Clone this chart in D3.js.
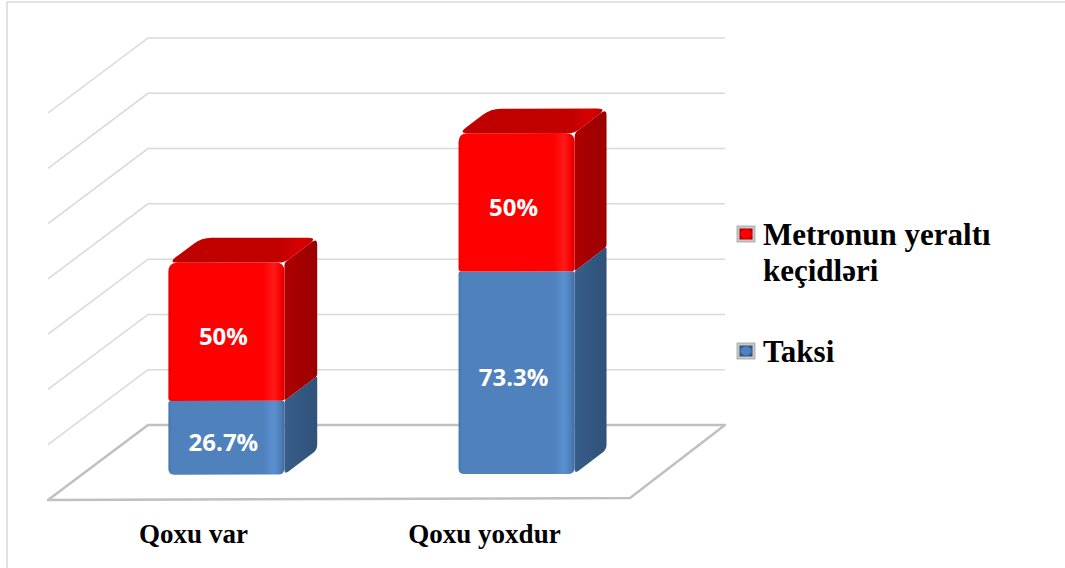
<!DOCTYPE html>
<html>
<meta charset="utf-8">
<title>Qoxu</title>
<style>
html,body{
  margin:0;
  background:#fff;
}
svg {
  display:block;
  background-color:#fff;
}
.cat, .leg {
  font-family:"Liberation Serif","Times New Roman",serif;
  font-weight:bold;
  fill:#000;
}
.lbl {
  font-family:"Open Sans",sans-serif;
  font-weight:bold;
  font-size:24px;
  fill:#fff;
}
</style>
<script src="https://cdn.jsdelivr.net/npm/d3@7"></script>
<body>
<script>

var categories = ["Qoxu var", "Qoxu yoxdur"];
var taksi = [26.7, 73.3];
var metro = [50, 50];
var seriesKeys = ["taksi", "metro"];
var seriesNames = {taksi: "Taksi", metro: "Metronun yeraltı keçidləri"};
var yTicks = [0, 20, 40, 60, 80, 100, 120, 140];

var width = 1065, height = 568;

var rows = categories.map(function(c, i){
  return {cat: c, taksi: taksi[i], metro: metro[i]};
});
var stacked = d3.stack().keys(seriesKeys)(rows);

var svg = d3.select("body").append("svg")
    .attr("width", width)
    .attr("height", height);

var defs = svg.append("defs");

function hgrad(id, stops){
  var g = defs.append("linearGradient").attr("id", id)
    .attr("x1", "0").attr("x2", "1").attr("y1", "0").attr("y2", "0");
  stops.forEach(function(s){
    g.append("stop").attr("offset", s[0]).attr("stop-color", s[1]);
  });
}
hgrad("frontRed", [["0%","#e80000"],["3%","#ff0000"],["82%","#ff0000"],["91%","#ff1a1a"],["97%","#f50000"],["100%","#d80000"]]);
hgrad("frontBlue", [["0%","#4675ab"],["3%","#4f81bd"],["82%","#4f81bd"],["91%","#5a90d1"],["97%","#4c7db8"],["100%","#41699a"]]);
hgrad("topRed", [["0%","#c00000"],["78%","#c20000"],["90%","#d80000"],["100%","#c40000"]]);
hgrad("sideRed", [["0%","#ad0000"],["100%","#9c0000"]]);
hgrad("sideBlue", [["0%","#375d89"],["100%","#30527a"]]);

var faceFill = {
  taksi: {front: "url(#frontBlue)", side: "url(#sideBlue)", top: "#3d6594"},
  metro: {front: "url(#frontRed)", side: "url(#sideRed)", top: "url(#topRed)"}
};

// outer chart border
svg.append("rect")
  .attr("x", 7).attr("y", 2)
  .attr("width", 1070).attr("height", 600)
  .attr("fill", "none")
  .attr("stroke", "#d9d9d9")
  .attr("stroke-width", 1.5);

var x = d3.scaleBand().domain(categories).range([148, 725]).padding(0);
var y = d3.scaleLinear().domain([0, 140]).range([425, 38]);

// oblique depth, back wall -> front edge of the floor
function ddx(xb){ return -100 + 5 * (xb - 148) / 577; }
function ddy(xb){ return 75 - 2 * (xb - 148) / 577; }
function P(xb, v, d){
  return [xb + d * ddx(xb), y(v) + d * ddy(xb)];
}

function roundPoly(pts, r){
  var n = pts.length, s = "";
  for (var i = 0; i < n; i++){
    var p0 = pts[(i - 1 + n) % n], p1 = pts[i], p2 = pts[(i + 1) % n];
    var rr = Array.isArray(r) ? r[i] : r;
    var l0 = Math.hypot(p0[0]-p1[0], p0[1]-p1[1]);
    var l2 = Math.hypot(p2[0]-p1[0], p2[1]-p1[1]);
    var k0 = Math.min(rr, l0/2) / l0, k2 = Math.min(rr, l2/2) / l2;
    var a = [p1[0] + (p0[0]-p1[0])*k0, p1[1] + (p0[1]-p1[1])*k0];
    var b = [p1[0] + (p2[0]-p1[0])*k2, p1[1] + (p2[1]-p1[1])*k2];
    s += (i == 0 ? "M" : "L") + a[0] + "," + a[1] +
         "Q" + p1[0] + "," + p1[1] + " " + b[0] + "," + b[1];
  }
  return s + "Z";
}

var x0 = x.range()[0], x1 = x.range()[1];

// gridlines on the back and side walls
svg.append("g").selectAll("path")
  .data(yTicks.filter(function(t){ return t > 0; }))
  .enter().append("path")
    .attr("d", function(t){
      return "M" + P(x0, t, 1) + "L" + P(x0, t, 0) + "L" + P(x1, t, 0);
    })
    .attr("fill", "none")
    .attr("stroke", "#d9d9d9")
    .attr("stroke-width", 1.5);

// floor
svg.append("path")
  .attr("d", "M" + P(x0, 0, 0) + "L" + P(x1, 0, 0) + "L" + P(x1, 0, 1) + "L" + P(x0, 0, 1) + "Z")
  .attr("fill", "none")
  .attr("stroke", "#c0c0c0")
  .attr("stroke-width", 2.5)
  .attr("stroke-linejoin", "round");

// bars
var dFront = 2/3, dBack = 1/3;
var barLayer = svg.append("g");
var labelLayer = svg.append("g");

categories.forEach(function(c, i){
  var xc = x(c) + x.bandwidth() / 2;
  var half = x.bandwidth() * 0.2;
  var xl = xc - half, xr = xc + half;
  stacked.forEach(function(layer, k){
    var key = layer.key;
    var v0 = layer[i][0], v1 = layer[i][1];
    var last = k == stacked.length - 1;
    var first = k == 0;
    var side = [P(xr, v1, dFront), P(xr, v1, dBack), P(xr, v0, dBack), P(xr, v0, dFront)];
    var front = [P(xl, v1, dFront), P(xr, v1, dFront), P(xr, v0, dFront), P(xl, v0, dFront)];
    barLayer.append("path")
      .attr("d", roundPoly(side, last ? [3, 7, 2, 2] : [2, 2, 5, 5]))
      .attr("fill", faceFill[key].side);
    barLayer.append("path")
      .attr("d", roundPoly(front, [last ? 9 : 2, last ? 9 : 2, first ? 6 : 3, first ? 6 : 3]))
      .attr("fill", faceFill[key].front);
    if (last){
      var top = [P(xl, v1, dBack), P(xr, v1, dBack), P(xr, v1, dFront), P(xl, v1, dFront)];
      barLayer.append("path")
        .attr("d", roundPoly(top, [10, 9, 6, 9]))
        .attr("fill", faceFill[key].top);
    }
    var fy0 = P(xl, v0, dFront)[1], fy1 = P(xl, v1, dFront)[1];
    labelLayer.append("text")
      .attr("class", "lbl")
      .attr("x", (P(xl, v0, dFront)[0] + P(xr, v0, dFront)[0]) / 2 - 3)
      .attr("y", (fy0 + fy1) / 2 + 13.5)
      .attr("text-anchor", "middle")
      .text(layer[i].data[key] + "%");
  });
});

// category labels under the front edge of the floor
svg.append("g").selectAll("text")
  .data(categories)
  .enter().append("text")
    .attr("class", "cat")
    .attr("font-size", 27)
    .attr("text-anchor", "middle")
    .attr("x", function(c){ return P(x(c) + x.bandwidth() / 2, 0, 1)[0]; })
    .attr("y", 543)
    .text(function(c){ return c; });

// legend
var legendItems = [
  {key: "metro", color: "#ff0000", dark: "#b00000", y: 226, lines: ["Metronun yeraltı", "keçidləri"]},
  {key: "taksi", color: "#4f81bd", dark: "#2f5280", y: 343, lines: ["Taksi"]}
];
legendItems.forEach(function(it){
  var gid = "leg" + it.key;
  var g = defs.append("radialGradient").attr("id", gid);
  g.append("stop").attr("offset", "0%").attr("stop-color", it.color);
  g.append("stop").attr("offset", "70%").attr("stop-color", it.color);
  g.append("stop").attr("offset", "100%").attr("stop-color", it.dark);
  var lg = svg.append("g");
  lg.append("rect")
    .attr("x", 737).attr("y", it.y)
    .attr("width", 18).attr("height", 16)
    .attr("fill", "#c8c8c8")
    .attr("stroke", "#a0a0a0")
    .attr("stroke-width", 0.8);
  lg.append("rect")
    .attr("x", 739.5).attr("y", it.y + 2.5)
    .attr("width", 13).attr("height", 11)
    .attr("fill", "url(#" + gid + ")");
  lg.selectAll("text")
    .data(it.lines)
    .enter().append("text")
      .attr("class", "leg")
      .attr("font-size", 31)
      .attr("x", 763)
      .attr("y", function(d, j){ return it.y + 19 + j * 36; })
      .text(function(d){ return d; });
});

</script>
</body>
</html>
